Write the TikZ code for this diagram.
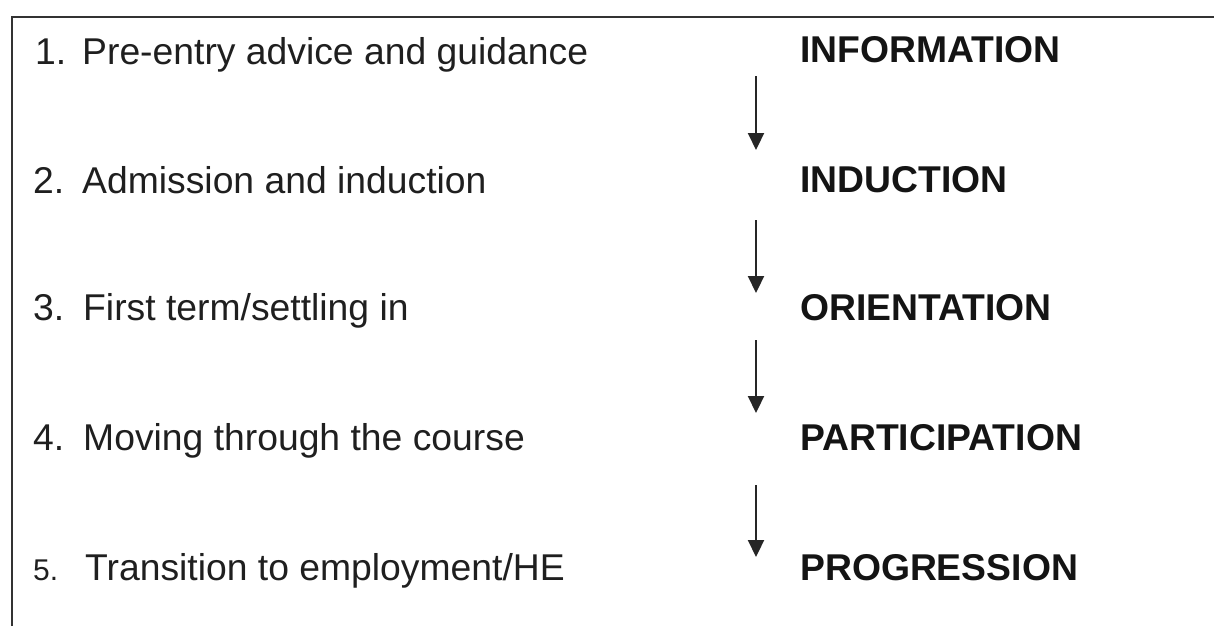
\documentclass[tikz,border=0pt]{standalone}
\usepackage{fontspec}
\setmainfont{Liberation Sans}
\usetikzlibrary{arrows.meta}
\begin{document}
\begin{tikzpicture}[x=1pt,y=-1pt,
  txt/.style={anchor=base west,inner sep=0pt,text=black!88,font=\fontsize{37.3}{44}\selectfont},
  num/.style={txt},
  smallnum/.style={anchor=base west,inner sep=0pt,text=black!88,font=\fontsize{30}{36}\selectfont},
  stage/.style={anchor=base west,inner sep=0pt,text=black!92,font=\fontsize{37.3}{44}\selectfont\bfseries},
  flow/.style={line width=2.2pt,draw=black!85,-{Triangle[length=17pt,width=16pt]}}]
\useasboundingbox (0,0) rectangle (1214,626);
% frame (top and left edges)
\draw[line width=2.8pt,black!80] (12,626) -- (12,17) -- (1214,17);
% left column: steps
\node[num] (n1) at (35,64) {1.};
\node[txt] (t1) at (82,64) {Pre-entry advice and guidance};
\node[num] (n2) at (33,193) {2.};
\node[txt] (t2) at (82,193) {Admission and induction};
\node[num] (n3) at (33,320) {3.};
\node[txt] (t3) at (83,320) {First term/settling in};
\node[num] (n4) at (33,450) {4.};
\node[txt] (t4) at (83,450) {Moving through the course};
\node[smallnum] (n5) at (33,580) {5.};
\node[txt] (t5) at (85,580) {Transition to employment/HE};
% right column: stages
\node[stage] (s1) at (800,63) {INFORMATION};
\node[stage] (s2) at (800,192) {INDUCTION};
\node[stage] (s3) at (800,320) {ORIENTATION};
\node[stage] (s4) at (800,450) {PARTICIPATION};
\node[stage] (s5) at (800,580) {PROGRESSION};
% arrows between stages
\coordinate (a1) at (756,76);  \coordinate (b1) at (756,150);
\coordinate (a2) at (756,220); \coordinate (b2) at (756,293);
\coordinate (a3) at (756,340); \coordinate (b3) at (756,413);
\coordinate (a4) at (756,485); \coordinate (b4) at (756,557);
\draw[flow] (a1) -- (b1);
\draw[flow] (a2) -- (b2);
\draw[flow] (a3) -- (b3);
\draw[flow] (a4) -- (b4);
\end{tikzpicture}
\end{document}
